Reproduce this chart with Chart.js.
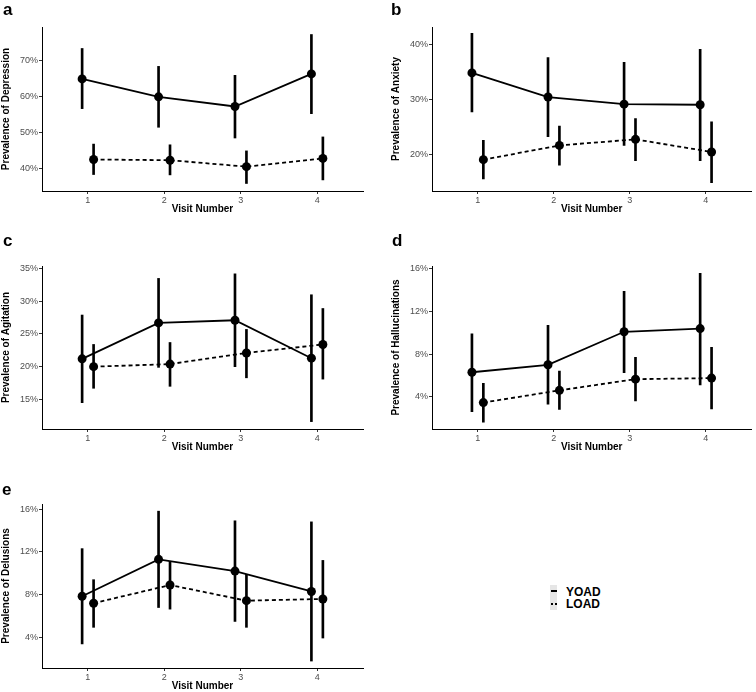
<!DOCTYPE html>
<html>
<head>
<meta charset="utf-8">
<script src="https://cdn.jsdelivr.net/npm/chart.js@4.4.1/dist/chart.umd.min.js"></script>
<style>
  html,body{margin:0;padding:0;background:#fff;}
  #wrap{position:relative;width:756px;height:692px;background:#fff;overflow:hidden;font-family:"Liberation Sans",Arial,sans-serif;}
  canvas{position:absolute;}
  .lab{position:absolute;font-weight:bold;font-size:17px;line-height:17px;color:#000;}
  .leg{position:absolute;font-weight:bold;font-size:12px;line-height:12px;color:#000;}
  .key{position:absolute;background:#e6e6e6;}
  .seg{position:absolute;background:#000;}
</style>
</head>
<body>
<div id="wrap">
  <canvas id="ca"></canvas><canvas id="cb"></canvas><canvas id="cc"></canvas><canvas id="cd"></canvas><canvas id="ce"></canvas>
  <div class="lab" style="left:3px;top:1px">a</div>
  <div class="lab" style="left:391px;top:1px">b</div>
  <div class="lab" style="left:3px;top:232px">c</div>
  <div class="lab" style="left:392px;top:232px">d</div>
  <div class="lab" style="left:2px;top:481px">e</div>
  <div class="key" style="left:550px;top:585px;width:7px;height:25px"></div>
  <div class="seg" style="left:551px;top:590px;width:6px;height:2px"></div>
  <div class="seg" style="left:551px;top:603px;width:2px;height:2px"></div>
  <div class="seg" style="left:555px;top:603px;width:2px;height:2px"></div>
  <div class="leg" style="left:566px;top:586px">YOAD</div>
  <div class="leg" style="left:566px;top:598px">LOAD</div>
</div>
<script>
// ---------- data ----------
const visits = [1, 2, 3, 4];
const seriesNames = ["YOAD", "LOAD"];

const depTicks = [40, 50, 60, 70];
const depYoad = [64.9, 59.9, 57.2, 66.3];
const depYoadLo = [56.6, 51.4, 48.4, 55.2];
const depYoadHi = [73.4, 68.4, 65.9, 77.3];
const depLoad = [42.4, 42.2, 40.4, 42.7];
const depLoadLo = [38.2, 38.1, 35.7, 36.7];
const depLoadHi = [46.7, 46.5, 44.8, 48.7];

const anxTicks = [20, 30, 40];
const anxYoad = [34.8, 30.4, 29.1, 29.0];
const anxYoadLo = [27.7, 23.2, 21.6, 18.8];
const anxYoadHi = [42.0, 37.6, 36.7, 39.1];
const anxLoad = [19.0, 21.6, 22.7, 20.4];
const anxLoadLo = [15.5, 18.0, 18.8, 14.8];
const anxLoadHi = [22.5, 25.1, 26.5, 25.9];

const agiTicks = [15, 20, 25, 30, 35];
const agiYoad = [21.2, 26.7, 27.1, 21.3];
const agiYoadLo = [14.5, 19.9, 20.0, 11.6];
const agiYoadHi = [27.9, 33.5, 34.2, 31.0];
const agiLoad = [20.0, 20.4, 22.1, 23.4];
const agiLoadLo = [16.7, 17.0, 18.3, 18.1];
const agiLoadHi = [23.4, 23.7, 25.7, 28.9];

const halTicks = [4, 8, 12, 16];
const halYoad = [6.3, 7.0, 10.1, 10.4];
const halYoadLo = [2.6, 3.3, 6.25, 5.1];
const halYoadHi = [9.9, 10.7, 13.9, 15.6];
const halLoad = [3.45, 4.6, 5.65, 5.75];
const halLoadLo = [1.6, 2.8, 3.6, 2.85];
const halLoadHi = [5.25, 6.4, 7.7, 8.65];

const delTicks = [4, 8, 12, 16];
const delYoad = [7.85, 11.3, 10.2, 8.3];
const delYoadLo = [3.4, 6.8, 5.5, 1.8];
const delYoadHi = [12.3, 15.8, 14.9, 14.8];
const delLoad = [7.2, 8.9, 7.44, 7.6];
const delLoadLo = [4.95, 6.65, 4.95, 3.95];
const delLoadHi = [9.4, 11.1, 9.9, 11.2];

// ---------- layout / style ----------
const FONT = "'Liberation Sans', Arial, sans-serif";
const DODGE = 0.075;
const YW = 42, XH = 24;

function panel(id, title, ticks, yMin, yMax, yoad, yoadLo, yoadHi, load, loadLo, loadHi, rect, area) {
  const cv = document.getElementById(id);
  cv.width = rect.w; cv.height = rect.h;
  cv.style.left = rect.left + 'px'; cv.style.top = rect.top + 'px';
  cv.style.width = rect.w + 'px'; cv.style.height = rect.h + 'px';
  const pad = {
    top: area.t - rect.top,
    left: area.l - rect.left - YW,
    right: rect.left + rect.w - area.r,
    bottom: rect.top + rect.h - area.b - XH
  };
  const pts = (vals, off) => vals.map((v, i) => ({x: visits[i] + off, y: v}));
  const bars = (lo, hi, off) => lo.map((v, i) => ({x: visits[i] + off, y: [v, hi[i]]}));
  const barDs = (lo, hi, off, name) => ({
    type: 'bar', label: name + ' CI', data: bars(lo, hi, off),
    backgroundColor: '#000', borderWidth: 0, barThickness: 2, grouped: false
  });
  const lineDs = (vals, off, name, dash) => ({
    type: 'line', label: name, data: pts(vals, off),
    borderColor: '#000', borderWidth: 1.8, borderDash: dash, tension: 0,
    pointRadius: 4.5, pointBackgroundColor: '#000', pointBorderWidth: 0, fill: false
  });
  new Chart(cv, {
    type: 'line',
    data: {
      datasets: [
        lineDs(yoad, -DODGE, seriesNames[0], []),
        lineDs(load, DODGE, seriesNames[1], [4, 3]),
        barDs(yoadLo, yoadHi, -DODGE, seriesNames[0]),
        barDs(loadLo, loadHi, DODGE, seriesNames[1])
      ]
    },
    options: {
      responsive: false, animation: false,
      layout: {padding: pad},
      plugins: {legend: {display: false}, tooltip: {enabled: false}},
      scales: {
        x: {
          type: 'linear', min: 0.4, max: 4.6, offset: false,
          afterBuildTicks: s => { s.ticks = visits.map(v => ({value: v})); },
          afterFit: s => { s.height = XH; },
          grid: {display: true, drawOnChartArea: false, offset: false, tickLength: 3, tickColor: '#333', tickWidth: 1},
          border: {display: true, color: '#000', width: 1},
          ticks: {color: '#4d4d4d', font: {family: FONT, size: 9}, padding: 1, maxRotation: 0, callback: v => String(v)},
          title: {display: true, text: 'Visit Number', color: '#000', font: {family: FONT, size: 10, weight: 'bold'}, padding: 0}
        },
        y: {
          type: 'linear', min: yMin, max: yMax,
          afterBuildTicks: s => { s.ticks = ticks.map(v => ({value: v})); },
          afterFit: s => { s.width = YW; },
          grid: {display: true, drawOnChartArea: false, tickLength: 3, tickColor: '#333', tickWidth: 1},
          border: {display: true, color: '#000', width: 1},
          ticks: {color: '#4d4d4d', font: {family: FONT, size: 9}, padding: 1, callback: v => v + '%'},
          title: {display: true, text: title, color: '#000', font: {family: FONT, size: 10, weight: 'bold'}, padding: 0}
        }
      }
    }
  });
}

panel('ca', 'Prevalence of Depression', depTicks, 33.6, 79.4,
  depYoad, depYoadLo, depYoadHi, depLoad, depLoadLo, depLoadHi,
  {left: 0, top: 0, w: 378, h: 225}, {l: 42, t: 27, r: 363, b: 191});
panel('cb', 'Prevalence of Anxiety', anxTicks, 13.3, 43.15,
  anxYoad, anxYoadLo, anxYoadHi, anxLoad, anxLoadLo, anxLoadHi,
  {left: 378, top: 0, w: 378, h: 225}, {l: 432, t: 27, r: 752, b: 191});
panel('cc', 'Prevalence of Agitation', agiTicks, 10.47, 35.4,
  agiYoad, agiYoadLo, agiYoadHi, agiLoad, agiLoadLo, agiLoadHi,
  {left: 0, top: 225, w: 378, h: 230}, {l: 42, t: 266, r: 363, b: 429});
panel('cd', 'Prevalence of Hallucinations', halTicks, 0.97, 16.28,
  halYoad, halYoadLo, halYoadHi, halLoad, halLoadLo, halLoadHi,
  {left: 378, top: 225, w: 378, h: 230}, {l: 432, t: 266, r: 752, b: 429});
panel('ce', 'Prevalence of Delusions', delTicks, 1.15, 16.47,
  delYoad, delYoadLo, delYoadHi, delLoad, delLoadLo, delLoadHi,
  {left: 0, top: 455, w: 378, h: 237}, {l: 42, t: 504, r: 363, b: 668});
</script>
</body>
</html>
